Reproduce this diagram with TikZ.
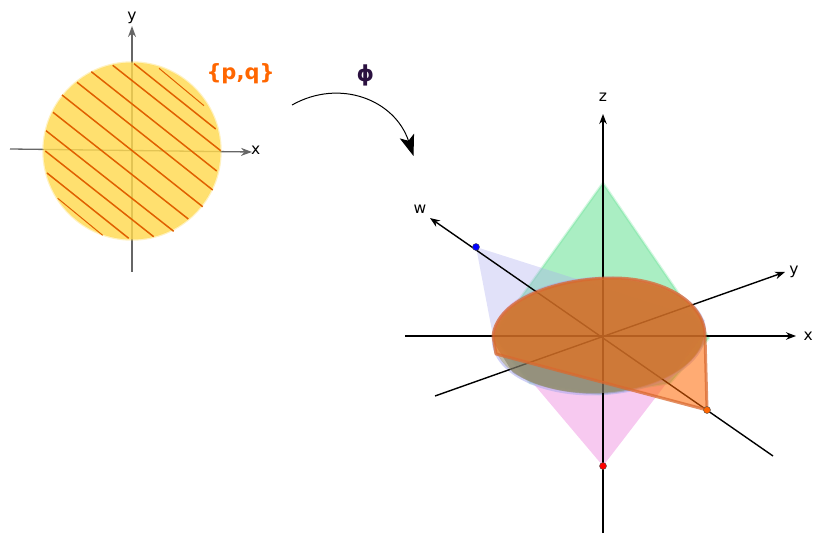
\documentclass[tikz,border=0pt]{standalone}
\usepackage{fontspec}
\usepackage{xcolor}
\setmainfont{DejaVu Sans}
\usetikzlibrary{arrows.meta,positioning}
\definecolor{SheetGreen}{HTML}{55DD88}
\definecolor{SheetPink}{HTML}{EE88DD}
\definecolor{SheetBlue}{HTML}{AAAAEE}
\definecolor{SheetOrange}{HTML}{FF6600}
\definecolor{SheetRim}{HTML}{D9692F}
\definecolor{DiscFill}{HTML}{FFD94F}
\definecolor{DiscOlive}{HTML}{958F78}
\definecolor{HatchOrange}{HTML}{E06000}
\definecolor{PhiPurple}{HTML}{2B1140}
\tikzset{
  >=Stealth,
  axisline/.style={-{Stealth[length=10pt,width=7.5pt]},draw=black,line width=1.4pt},
  flataxis/.style={-{Stealth[length=11pt,width=8pt]},draw=black!60,line width=1.3pt},
  axislabel/.style={font=\fontsize{15.5}{15.5}\selectfont,inner sep=0pt},
  sheet/.style={fill=#1,fill opacity=.5,draw=#1,draw opacity=.25,line width=2.5pt,line join=round},
  hatch/.style={draw=HatchOrange},
  tipdot/.style={circle,draw=black!70,line width=.4pt,fill=#1,minimum size=7pt,inner sep=0pt}
}
\begin{document}
\begin{tikzpicture}[x=1pt,y=1pt]
  \useasboundingbox (0,0) rectangle (813,533);
  % flat disc
  \coordinate (fO) at (132,382);
  \coordinate (fxa) at (10,384);
  \coordinate (fxb) at (252,381);
  \coordinate (fya) at (132,261);
  \coordinate (fyb) at (132,507);
  \draw[flataxis] (fxa) -- (fxb);
  \draw[flataxis] (fya) -- (fyb);
  \fill[DiscFill,fill opacity=.82] (fO) circle[radius=88.5];
  \draw[DiscFill,opacity=.35,line width=1.5pt] (fO) circle[radius=89];
  \foreach \ax/\ay/\bx/\by/\w in {159/464.7/204/427.3/1,134/469.3/215.7/404/1.5,112.7/467.7/220.7/382.3/1.5,
    91.3/461.3/216.7/362/1.5,77/450.7/212.7/343/1.5,62/438/202.7/326.3/1.5,53/420.7/188.3/314/1.5,
    46/402.3/173.7/301.7/1.5,45.3/382/153.7/296.3/1.5,47/360/128.7/294.7/1.5,57.7/334.7/102.7/297.7/1} {
    \draw[hatch,line width=\w pt] (\ax,\ay) -- (\bx,\by);
  }
  \node[axislabel,anchor=west] (fxlabel) at (251,383) {x};
  \node[axislabel] (fylabel) at (132,515) {y};
  \node[text=SheetOrange,font=\fontsize{21}{21}\selectfont\bfseries] (pq) at (240.5,459) {\{p,q\}};
  % map arrow
  \node[text=PhiPurple,font=\fontsize{22}{22}\selectfont\bfseries] (phi) at (365.5,458) {ϕ};
  \coordinate (mapa) at (292,428);
  \coordinate (mapb) at (413.5,377);
  \draw[-{Stealth[length=21pt,width=15pt,inset=5pt]},line width=1pt] (mapa) .. controls (340,455) and (395,433) .. (mapb);
  % axes of the target
  \coordinate (O) at (603,196);
  \coordinate (xa) at (405,197);
  \coordinate (xb) at (796,197);
  \coordinate (ya) at (435,137);
  \coordinate (yb) at (785,261);
  \coordinate (za) at (603,0);
  \coordinate (zb) at (603,419);
  \coordinate (wa) at (773,77);
  \coordinate (wb) at (430,315);
  \node[axislabel,anchor=east] (xlabel) at (813,197) {x};
  \node[axislabel] (ylabel) at (794,261) {y};
  \node[axislabel] (zlabel) at (603,436) {z};
  \node[axislabel] (wlabel) at (420,324) {w};
  % sheets over the unit disc
  \coordinate (apexg) at (603,350);
  \coordinate (apexp) at (603,67);
  \coordinate (apexb) at (476,286);
  \coordinate (apexo) at (707,123);
  \fill[SheetPink,fill opacity=.45] (apexp) -- (705,200) arc[start angle=3,end angle=180,x radius=106,y radius=58] -- cycle;
  \draw[sheet=SheetGreen] (apexg) -- (493,197) -- (530,150) -- (600,139) -- (670,150) -- (709,195) -- cycle;
  \fill[SheetBlue,fill opacity=.35] (apexb) -- (493,197) -- (530,150) -- (600,139) -- (670,150) -- (705,213) -- cycle;
  \begin{scope}[shift={(599,197)},rotate=3]
    \fill[DiscOlive,fill opacity=.85] (-88,-32) .. controls (-60,-52) and (-20,-58) .. (0,-58) .. controls (60,-58) and (106,-30) .. (106,0)
      .. controls (106,30) and (60,58) .. (0,58) .. controls (-60,58) and (-106,30) .. (-106,0) -- cycle;
    \draw[SheetBlue,line width=2.5pt,opacity=.55] (0,0) ellipse[x radius=106,y radius=58];
  \end{scope}
  \foreach \a/\b in {xa/xb,ya/yb,za/zb,wa/wb} {
    \draw[axisline] (\a) -- (\b);
  }
  \begin{scope}[shift={(599,197)},rotate=3]
    \fill[DiscOlive,fill opacity=.6] (0,0) ellipse[x radius=105,y radius=57];
  \end{scope}
  \draw[sheet=SheetOrange,fill opacity=.55,draw=SheetRim,draw opacity=.75,line width=3pt] (apexo) -- (496,179) -- (493,197) .. controls (497,235) and (560,255) .. (613,255)
    .. controls (665,255) and (705,230) .. (705,197) -- cycle;
  \node[tipdot=blue] (blueend) at (apexb) {};
  \node[tipdot=red] (redend) at (apexp) {};
  \node[tipdot=SheetOrange] (orangeend) at (apexo) {};
\end{tikzpicture}
\end{document}
